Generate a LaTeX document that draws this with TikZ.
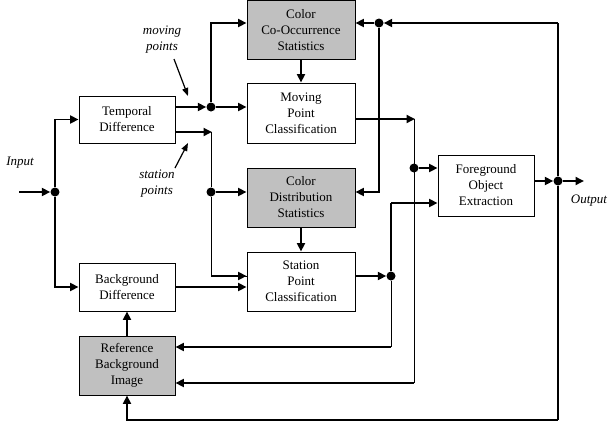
\documentclass[tikz,border=0pt]{standalone}
\usepackage{fontspec}
\setmainfont{Liberation Serif}
\usetikzlibrary{arrows.meta}
\definecolor{boxgray}{RGB}{192,192,192}
\begin{document}
\begin{tikzpicture}[x=1pt,y=-1pt,
  blk/.style={draw,line width=0.9pt,align=center,inner sep=0pt,font=\fontsize{13}{16}\selectfont},
  gblk/.style={blk,fill=boxgray},
  junc/.style={circle,fill=black,inner sep=0pt,minimum size=9pt},
  thk/.style={line width=1.8pt},
  thn/.style={line width=0.9pt},
  arr/.style={-{Triangle[length=8.5pt,width=8pt]}},
  lbl/.style={font=\itshape\fontsize{13}{16}\selectfont,align=center,inner sep=0pt},
  pointer/.style={line width=1.2pt,-{Triangle[length=8pt,width=6pt]}}
]
\useasboundingbox (0,0) rectangle (608,426);
% blocks
\node[blk,minimum width=96pt,minimum height=47pt] (T) at (127,119.5) {Temporal\\Difference};
\node[gblk,minimum width=108pt,minimum height=58.5pt] (C) at (301,29.8) {Color\\Co-Occurrence\\Statistics};
\node[blk,minimum width=108pt,minimum height=60pt] (M) at (301,113) {Moving\\Point\\Classification};
\node[gblk,minimum width=108pt,minimum height=59pt] (D) at (301,197.5) {Color\\Distribution\\Statistics};
\node[blk,minimum width=108pt,minimum height=59pt] (S) at (301,281.5) {Station\\Point\\Classification};
\node[blk,minimum width=96pt,minimum height=48pt] (B) at (127,287) {Background\\Difference};
\node[gblk,minimum width=96pt,minimum height=59pt] (R) at (127,365.5) {Reference\\Background\\Image};
\node[blk,minimum width=96pt,minimum height=61pt] (F) at (486,185.5) {Foreground\\Object\\Extraction};
% junctions
\node[junc] (d1) at (55,192) {};
\node[junc] (d2) at (211,107) {};
\node[junc] (d3) at (211,192) {};
\node[junc] (d4) at (414,168) {};
\node[junc] (d5) at (391,276) {};
\node[junc] (d6) at (558,181) {};
\node[junc] (d7) at (379,23) {};
% helper coordinates
\coordinate (in) at (19,192);
\coordinate (out) at (584,181);
\coordinate (c1) at (212,132);
\coordinate (c2) at (415,119);
\coordinate (c3) at (414,383);
\coordinate (c4) at (391,203);
\coordinate (c5) at (391,347);
\coordinate (c6) at (558,23);
\coordinate (c7) at (558,420);
% labels
\node[lbl] (lin) at (20,163) {Input};
\node[lbl] (lout) at (589,201) {Output};
\node[lbl] (lmov) at (162,40) {moving\\points};
\node[lbl] (lsta) at (157,184) {station\\points};
\coordinate (pm1) at (174,59);
\coordinate (pm2) at (188,96);
\coordinate (ps1) at (175,168);
\coordinate (ps2) at (188,143);
\draw[pointer] (pm1) -- (pm2);
\draw[pointer] (ps1) -- (ps2);
% connectors
\draw[thk,arr] (in) -- (d1);
\draw[thk,arr] (d1) |- (T.west);
\draw[thk,arr] (d1) |- (B.west);
\draw[thk,arr] (T.east |- d2) -- (d2);
\draw[thk,arr] (d2) |- (C.west |- d7);
\draw[thk,arr] (d2) -- (M.west |- d2);
\draw[thk,arr] (T.east |- c1) -- (c1);
\draw[thn] (211,132) -- (d3);
\draw[thk,arr] (d3) -- (D.west |- d3);
\draw[thn] (d3) |- (S.west |- d5);
\draw[thk,arr] (211,276) -- (S.west |- d5);
\draw[thk,arr] (B.east) -- (S.west |- B.east);
\draw[thk,arr] (R.north) -- (B.south);
\draw[thk,arr] (C.south) -- (M.north);
\draw[thk,arr] (D.south) -- (S.north);
\draw[thk,arr] (M.east |- c2) -- (c2);
\draw[thn] (414,119) -- (c3);
\draw[thk,arr] (c3) -- (R.east |- c3);
\draw[thk,arr] (d4) -- (F.west |- d4);
\draw[thk,arr] (S.east |- d5) -- (d5);
\draw[thk] (d5) -- (c4);
\draw[thk,arr] (c4) -- (F.west |- c4);
\draw[thn] (d5) -- (c5);
\draw[thk,arr] (c5) -- (R.east |- c5);
\draw[thk,arr] (F.east |- d6) -- (d6);
\draw[thk,arr] (d6) -- (out);
\draw[line width=1.3pt] (d6) -- (c6);
\draw[thk,arr] (c6) -- (d7);
\draw[thk,arr] (d7) -- (C.east |- d7);
\draw[thk,arr] (d7) |- (D.east |- d3);
\draw[line width=1.3pt] (d6) -- (c7);
\draw[thk,arr] (c7) -| (R.south);
\end{tikzpicture}
\end{document}
